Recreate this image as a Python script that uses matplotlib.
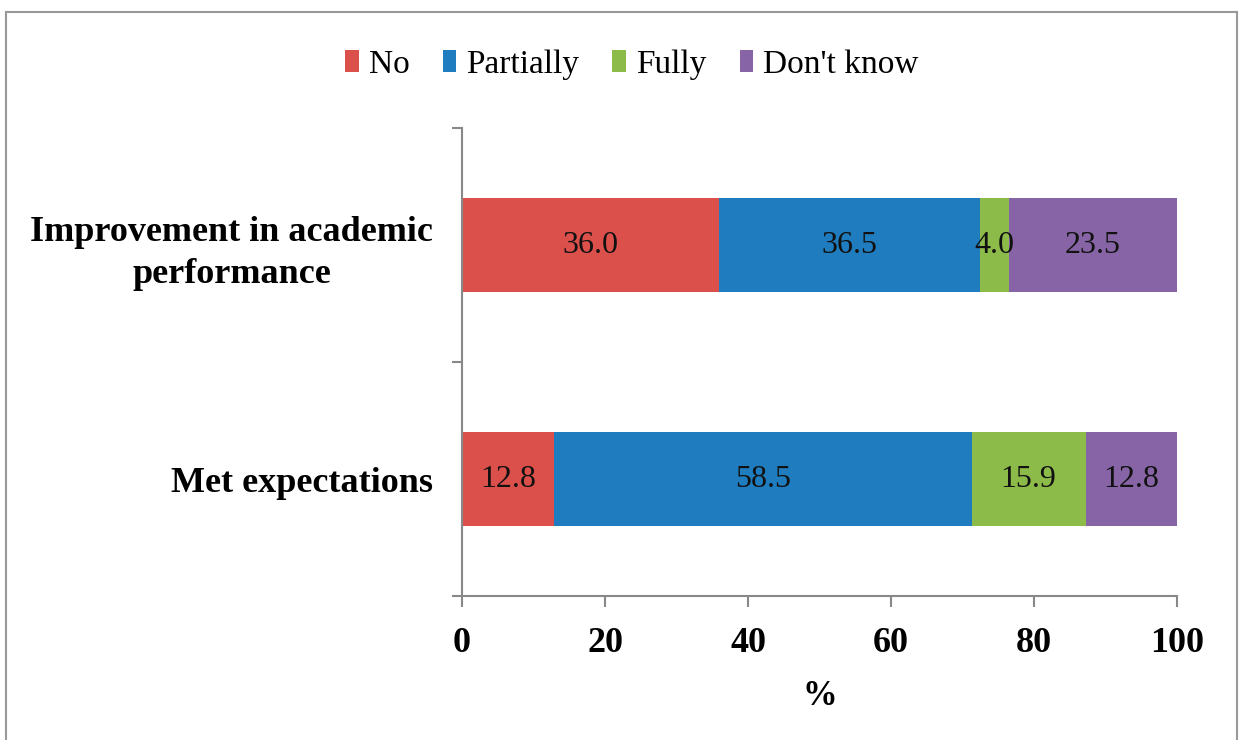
import numpy as np
import matplotlib.pyplot as plt
from matplotlib.lines import Line2D

plt.rcParams['font.family'] = ['Liberation Serif', 'DejaVu Serif']

# ==== data ====
categories = ['Met expectations', 'Improvement in academic\nperformance']
series_names = ['No', 'Partially', 'Fully', "Don't know"]
values = {
    'No':         [12.8, 36.0],
    'Partially':  [58.5, 36.5],
    'Fully':      [15.9, 4.0],
    "Don't know": [12.8, 23.5],
}
colors = ['#DB504B', '#1F7CBE', '#8DBB49', '#8764A5']
xticks = [0, 20, 40, 60, 80, 100]

# ==== figure ====
fig = plt.figure(figsize=(12.39, 7.40), dpi=100)
ax = fig.add_axes([0.3729, 0.1946, 0.5771, 0.6324])

y = np.arange(len(categories))
left = np.zeros(len(categories))
for name, c in zip(series_names, colors):
    v = np.array(values[name])
    bars = ax.barh(y, v, left=left, height=0.4, color=c, label=name)
    ax.bar_label(bars, labels=[f'{x:.1f}' for x in v], label_type='center',
                 fontsize=23, color='#111111')
    left += v

ax.set_xlim(0, 100)
ax.set_ylim(-0.5, 1.5)
ax.set_xticks(xticks)
ax.set_xticklabels([str(t) for t in xticks], fontsize=26, fontweight='bold')
ax.set_xlabel('%', fontsize=25, fontweight='bold', labelpad=15)

# category labels sit between the boundary ticks
ax.set_yticks([-0.5, 0.5, 1.5])
ax.set_yticklabels([])
ax.set_yticks(y, minor=True)
ax.set_yticklabels(categories, minor=True, fontsize=26, fontweight='bold',
                   linespacing=1.35, multialignment='center')
ax.tick_params(axis='y', which='minor', length=0, pad=21)
ax.tick_params(axis='y', which='major', length=7, color='#888888', width=1.5)
ax.tick_params(axis='x', length=8, color='#888888', width=1.5, pad=14)

for s in ['top', 'right']:
    ax.spines[s].set_visible(False)
for s in ['left', 'bottom']:
    ax.spines[s].set_color('#888888')
    ax.spines[s].set_linewidth(1.5)

ax.legend(loc='upper center', bbox_to_anchor=(0.51, 0.974),
          bbox_transform=fig.transFigure, ncol=4, frameon=False, fontsize=24,
          handlelength=0.4, handleheight=0.65, handletextpad=0.3,
          columnspacing=1.0)

# outer frame (top, left, right)
for xs, ys in [([0.005, 0.998], [0.984, 0.984]),
               ([0.005, 0.005], [0.0, 0.984]),
               ([0.998, 0.998], [0.0, 0.984])]:
    fig.add_artist(Line2D(xs, ys, transform=fig.transFigure,
                          color='#999999', linewidth=1.5))

fig.savefig('out.png', dpi=100)
